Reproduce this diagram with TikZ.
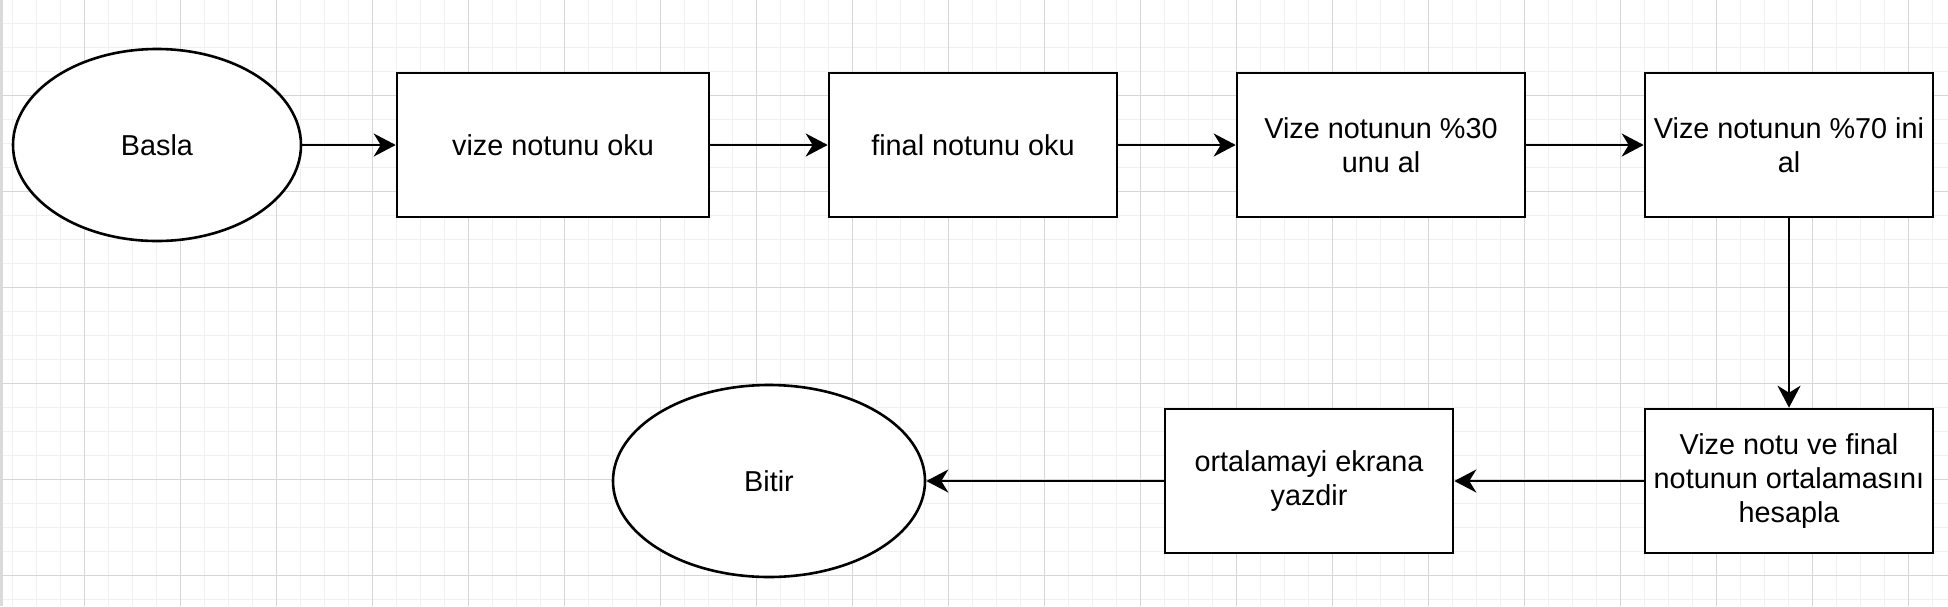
\documentclass[tikz,border=0pt]{standalone}
\usepackage{fontspec}
\setmainfont{Liberation Sans}
\usetikzlibrary{shapes.geometric,arrows.meta}
\definecolor{gridminor}{HTML}{F0F0F0}
\definecolor{gridmajor}{HTML}{D6D6D6}
\definecolor{edgebar}{HTML}{DADADA}
\tikzset{
  proc/.style={draw=black, line width=1.3pt, fill=white, rectangle,
    minimum width=144pt, minimum height=72pt, inner sep=2pt, align=center,
    font=\fontsize{14.4pt}{17pt}\selectfont},
  term/.style={draw=black, line width=1.3pt, fill=white, ellipse,
    minimum width=144pt, minimum height=96pt, inner sep=0pt, align=center,
    font=\fontsize{14.4pt}{17pt}\selectfont},
  flow/.style={draw=black, line width=1.3pt,
    -{Stealth[length=11pt,width=11.5pt,inset=3.5pt]}}
}
\begin{document}
\begin{tikzpicture}[x=0.5pt,y=-0.5pt]
\useasboundingbox (0,0) rectangle (1948,606);
\fill[white] (0,0) rectangle (1948,606);
% minor grid
\foreach \k in {0,...,80} {\draw[gridminor, line width=0.5pt] ({12+24*\k},0) -- ({12+24*\k},606);}
\foreach \k in {0,...,24} {\draw[gridminor, line width=0.5pt] (3,{23+24*\k}) -- (1948,{23+24*\k});}
% major grid
\foreach \k in {0,...,19} {\draw[gridmajor, line width=0.5pt] ({84+96*\k},0) -- ({84+96*\k},606);}
\foreach \k in {0,...,5} {\draw[gridmajor, line width=0.5pt] (3,{95+96*\k}) -- (1948,{95+96*\k});}
\fill[edgebar] (0,0) rectangle (3,606);

% nodes
\node[term] (basla) at (157,145) {Basla};
\node[proc, minimum width=156pt] (vize) at (553,145) {vize notunu oku};
\node[proc] (final) at (973,145) {final notunu oku};
\node[proc] (v30) at (1381,145) {Vize notunun \%30\\unu al};
\node[proc] (v70) at (1789,145) {Vize notunun \%70 ini\\al};
\node[proc] (ort) at (1789,481) {Vize notu ve final\\notunun ortalamasını\\hesapla};
\node[proc] (yaz) at (1309,481) {ortalamayi ekrana\\yazdir};
\node[term, minimum width=156pt] (bitir) at (769,481) {Bitir};

% connectors
\draw[flow] (basla.east) -- (vize.west);
\draw[flow] (vize.east) -- (final.west);
\draw[flow] (final.east) -- (v30.west);
\draw[flow] (v30.east) -- (v70.west);
\draw[flow] (v70.south) -- (ort.north);
\draw[flow] (ort.west) -- (yaz.east);
\draw[flow] (yaz.west) -- (bitir.east);
\end{tikzpicture}
\end{document}
